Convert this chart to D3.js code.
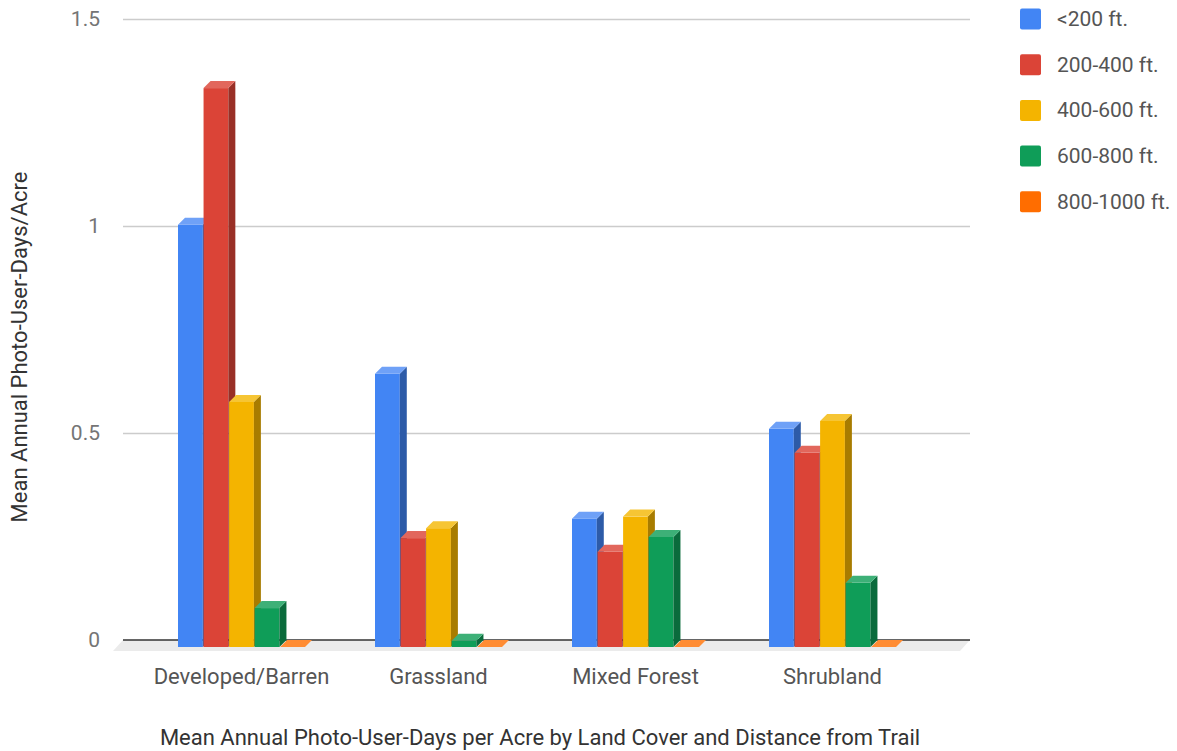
<!DOCTYPE html>
<html>
<head>
<meta charset="utf-8">
<script src="https://cdn.jsdelivr.net/npm/d3@7"></script>
<style>
  html, body { margin: 0; padding: 0; background: #fff; }
  svg { display: block; font-family: Roboto, "Noto Sans", sans-serif; }
</style>
</head>
<body>
<svg id="chart" width="1177" height="751"></svg>
<script>
// Land cover categories and distance bands
const categories = ["Developed/Barren", "Grassland", "Mixed Forest", "Shrubland"];
const seriesNames = ["<200 ft.", "200-400 ft.", "400-600 ft.", "600-800 ft.", "800-1000 ft."];

// Mean annual photo-user-days per acre, one array per distance band
const under200   = [1.02, 0.66, 0.31, 0.527];
const d200to400  = [1.35, 0.263, 0.23, 0.469];
const d400to600  = [0.592, 0.287, 0.315, 0.546];
const d600to800  = [0.094, 0.015, 0.266, 0.155];
const d800to1000 = [0.0, 0.0, 0.0, 0.0];
const seriesValues = [under200, d200to400, d400to600, d600to800, d800to1000];

const yTicks = [0, 0.5, 1, 1.5];

// Face colours: front, top (lighter), side (darker)
const frontColors = ["#4285f4", "#db4437", "#f4b400", "#0f9d58", "#ff6d00"];
const topColors   = ["#6fa1f7", "#e2675c", "#f6c534", "#3db077", "#ff8c33"];
const sideColors  = ["#2d5ba8", "#992f26", "#a87c00", "#0a6b3c", "#b34c00"];

const svg = d3.select("#chart");

// Plot frame (back wall) and 3D depth offset
const plotLeft = 123, plotRight = 970, plotTop = 19, plotBottom = 640;
const depth = 7;        // bar depth in px
const floorDepth = 11;  // floor band depth
const clusterWidth = 127;

const y = d3.scaleLinear().domain([0, 1.5]).range([plotBottom, plotTop]);
const x0 = d3.scaleBand().domain(categories).range([143, 931]);
const x1 = d3.scaleBand().domain(seriesNames).range([0, clusterWidth]).paddingInner(0.03);
const clusterOffset = (x0.bandwidth() - clusterWidth) / 2;

// Gridlines
const grid = svg.append("g")
  .attr("transform", `translate(${plotLeft},0)`)
  .call(d3.axisLeft(y).tickValues(yTicks.filter(t => t > 0)).tickSize(-(plotRight - plotLeft)).tickFormat(""));
grid.select(".domain").remove();
grid.selectAll("line").attr("stroke", "#cccccc").attr("stroke-width", 1.5);

// Y tick labels
const yAxis = svg.append("g")
  .attr("transform", "translate(100,0)")
  .call(d3.axisLeft(y).tickValues(yTicks).tickSize(0).tickPadding(0).tickFormat(d3.format("~g")));
yAxis.select(".domain").remove();
yAxis.selectAll("text")
  .attr("font-size", 21).attr("fill", "#757575")
  .attr("font-family", "Roboto, sans-serif");

// Floor band
svg.append("polygon")
  .attr("points", [[plotLeft, plotBottom], [plotRight, plotBottom], [plotRight - 10, plotBottom + floorDepth], [plotLeft - 10, plotBottom + floorDepth]].join(" "))
  .attr("fill", "#ebebeb");

// Baseline
svg.append("line")
  .attr("x1", plotLeft).attr("x2", plotRight).attr("y1", y(0)).attr("y2", y(0))
  .attr("stroke", "#333333").attr("stroke-width", 1.5);

// Bars as 3D boxes: front, top and right side faces
const bars = svg.append("g");
categories.forEach((cat, ci) => {
  seriesNames.forEach((s, si) => {
    const v = seriesValues[si][ci];
    const xl = x0(cat) + clusterOffset + x1(s);
    const w = x1.bandwidth();
    const yt = y(v) + depth;        // front-face top
    const yb = y(0) + depth;        // front-face bottom
    const g = bars.append("g");
    if (yb - yt > 0.5) {
      g.append("rect")
        .attr("x", xl).attr("y", yt).attr("width", w).attr("height", yb - yt)
        .attr("fill", frontColors[si]);
    }
    g.append("polygon")
      .attr("points", [[xl + w, yt], [xl + w + depth, yt - depth], [xl + w + depth, yb - depth], [xl + w, yb]].join(" "))
      .attr("fill", sideColors[si]);
    g.append("polygon")
      .attr("points", [[xl, yt], [xl + w, yt], [xl + w + depth, yt - depth], [xl + depth, yt - depth]].join(" "))
      .attr("fill", topColors[si]);
  });
});

// Category labels
const xAxis = svg.append("g")
  .attr("transform", "translate(0,676)")
  .call(d3.axisBottom(x0).tickSize(0).tickPadding(0));
xAxis.select(".domain").remove();
xAxis.selectAll("text")
  .attr("font-size", 22).attr("fill", "#555555")
  .attr("font-family", "Roboto, sans-serif")
  .attr("dy", null)
  .attr("dominant-baseline", "central");

// Axis titles
svg.append("text")
  .attr("x", 540).attr("y", 737)
  .attr("text-anchor", "middle").attr("dominant-baseline", "central")
  .attr("font-size", 22).attr("fill", "#333333")
  .text("Mean Annual Photo-User-Days per Acre by Land Cover and Distance from Trail");

svg.append("text")
  .attr("transform", "translate(19,347) rotate(-90)")
  .attr("text-anchor", "middle").attr("dominant-baseline", "central")
  .attr("font-size", 22).attr("fill", "#333333")
  .text("Mean Annual Photo-User-Days/Acre");

// Legend
const legend = svg.append("g");
seriesNames.forEach((s, i) => {
  const cy = 19 + i * 45.7;
  legend.append("rect")
    .attr("x", 1020).attr("y", cy - 10.5).attr("width", 21).attr("height", 21)
    .attr("rx", 2).attr("fill", frontColors[i]);
  legend.append("text")
    .attr("x", 1057).attr("y", cy)
    .attr("dominant-baseline", "central")
    .attr("font-size", 21).attr("fill", "#555555")
    .text(s);
});
</script>
</body>
</html>
